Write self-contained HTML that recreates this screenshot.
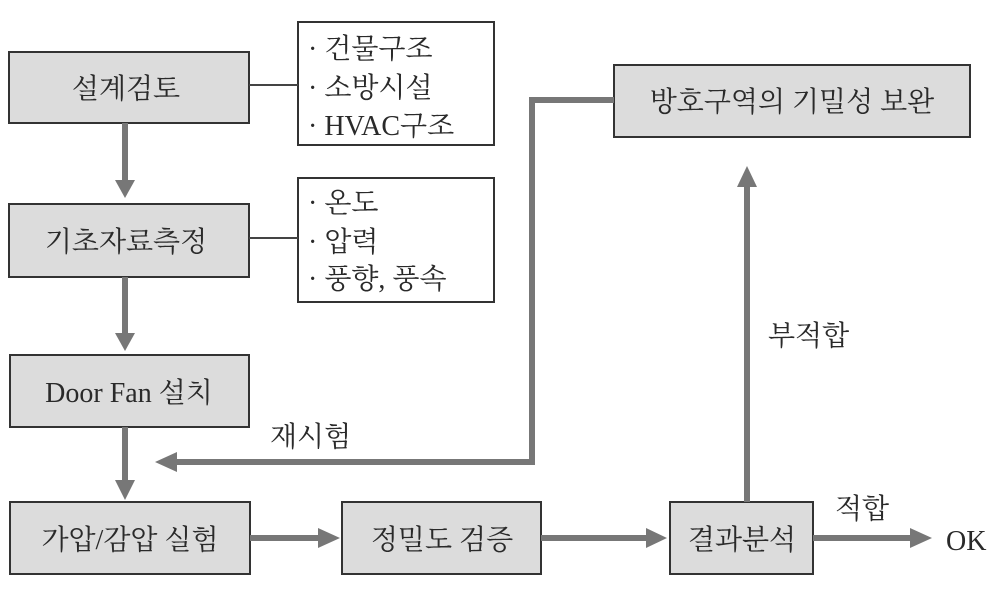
<!DOCTYPE html>
<html><head><meta charset="utf-8"><style>
body{margin:0;background:#fff;}
svg text{font-family:"Liberation Serif","Noto Serif CJK SC","Noto Sans CJK KR",serif;fill:#2a2a2a;}
</style></head><body>
<svg width="1000" height="593" viewBox="0 0 1000 593" xmlns="http://www.w3.org/2000/svg">
<g fill="#dcdcdc" stroke="#333" stroke-width="2">
<rect x="9" y="52" width="240" height="71"/>
<rect x="9" y="204" width="240" height="73"/>
<rect x="10" y="355" width="239" height="72"/>
<rect x="10" y="502" width="240" height="72"/>
<rect x="342" y="502" width="199" height="72"/>
<rect x="670" y="502" width="143" height="72"/>
<rect x="614" y="65" width="356" height="72"/>
</g>
<g fill="#fff" stroke="#333" stroke-width="2">
<rect x="298" y="22" width="196" height="123"/>
<rect x="298" y="178" width="196" height="124"/>
</g>
<g stroke="#444" stroke-width="2">
<line x1="249" y1="85" x2="298" y2="85"/>
<line x1="249" y1="238" x2="298" y2="238"/>
</g>
<g stroke="#777" stroke-width="6" fill="none">
<line x1="125" y1="123" x2="125" y2="182"/>
<line x1="125" y1="277" x2="125" y2="335"/>
<line x1="125" y1="427" x2="125" y2="482"/>
<line x1="250" y1="538" x2="320" y2="538"/>
<line x1="541" y1="538" x2="648" y2="538"/>
<line x1="813" y1="538" x2="912" y2="538"/>
<polyline points="614,100 532,100 532,462 175,462"/>
<line x1="747" y1="502" x2="747" y2="185"/>
</g>
<g fill="#777">
<polygon points="115,180 135,180 125,198"/>
<polygon points="115,333 135,333 125,351"/>
<polygon points="115,480 135,480 125,500"/>
<polygon points="318,528 318,548 340,538"/>
<polygon points="646,528 646,548 667,538"/>
<polygon points="910,528 910,548 932,538"/>
<polygon points="177,452 177,472 155,462"/>
<polygon points="737,187 757,187 747,166"/>
</g>
<g font-size="28" text-anchor="middle">
<text x="126" y="98">설계검토</text>
<text x="126" y="251">기초자료측정</text>
<text x="129" y="402">Door Fan 설치</text>
<text x="130" y="549">가압/감압 실험</text>
<text x="442" y="549">정밀도 검증</text>
<text x="742" y="549">결과분석</text>
<text x="792" y="111">방호구역의 기밀성 보완</text>
</g>
<g font-size="28">
<text x="308" y="58">· 건물구조</text>
<text x="308" y="97">· 소방시설</text>
<text x="308" y="135">·  HVAC구조</text>
<text x="308" y="212">· 온도</text>
<text x="308" y="251">· 압력</text>
<text x="308" y="288">· 풍향, 풍속</text>
<text x="270" y="446">재시험</text>
<text x="768" y="345">부적합</text>
<text x="835" y="518">적합</text>
<text x="946" y="550">OK</text>
</g>
</svg>
</body></html>
